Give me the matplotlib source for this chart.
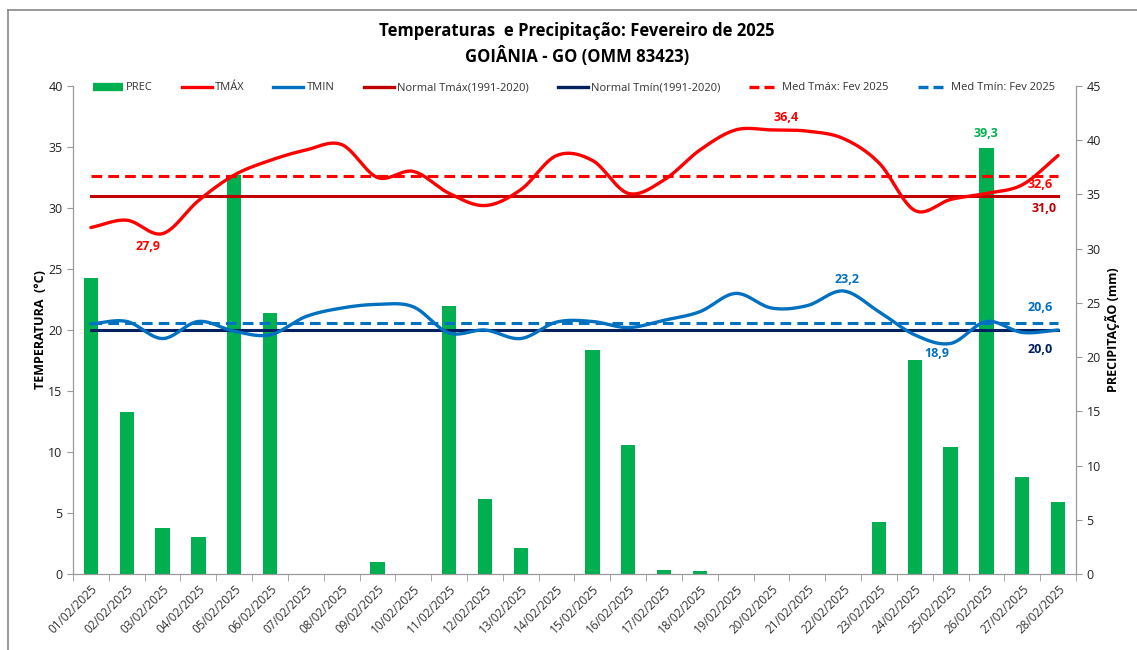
import numpy as np, matplotlib
matplotlib.use("Agg")
import matplotlib.pyplot as plt
from matplotlib.lines import Line2D

plt.rcParams["font.family"] = ["Open Sans", "DejaVu Sans"]

days = [f"{d:02d}/02/2025" for d in range(1, 29)]
tmax = [28.4, 29.0, 27.9, 30.6, 32.7, 33.9, 34.75, 35.2, 32.5, 33.0, 31.2, 30.2, 31.5, 34.3,
        33.9, 31.2, 32.3, 34.75, 36.4, 36.4, 36.3, 35.7, 33.7, 29.8, 30.7, 31.2, 31.9, 34.3]
tmin = [20.5, 20.7, 19.3, 20.7, 19.9, 19.6, 21.1, 21.8, 22.1, 21.9, 19.75, 20.0, 19.3, 20.65,
        20.7, 20.2, 20.8, 21.5, 23.0, 21.8, 22.0, 23.2, 21.5, 19.6, 18.9, 20.7, 19.8, 20.0]
prec = [27.3, 14.9, 4.2, 3.4, 36.8, 24.1, 0, 0, 1.1, 0, 24.7, 6.9, 2.4, 0,
        20.7, 11.9, 0.4, 0.3, 0, 0, 0, 0, 4.8, 19.7, 11.7, 39.3, 8.9, 6.6]
normal_tmax = 31.0
normal_tmin = 20.0
med_tmax = 32.6
med_tmin = 20.6

GREEN = "#00B050"; RED = "#FF0000"; DRED = "#C00000"; BLUE = "#0070C0"; NAVY = "#002060"


def smooth(y, n=24):
    # Catmull-Rom curve through the points (Excel "smoothed line" look)
    y = np.asarray(y, float)
    x = np.arange(1, len(y) + 1, dtype=float)
    P = np.column_stack([x, y])
    P = np.vstack([P[0] - (P[1] - P[0]), P, P[-1] + (P[-1] - P[-2])])
    out = []
    t = np.linspace(0, 1, n, endpoint=False)[:, None]
    for i in range(1, len(P) - 2):
        p0, p1, p2, p3 = P[i - 1], P[i], P[i + 1], P[i + 2]
        seg = 0.5 * ((2 * p1) + (-p0 + p2) * t + (2 * p0 - 5 * p1 + 4 * p2 - p3) * t ** 2
                     + (-p0 + 3 * p1 - 3 * p2 + p3) * t ** 3)
        out.append(seg)
    out.append(P[-2][None, :])
    out = np.vstack(out)
    return out[:, 0], out[:, 1]


fig = plt.figure(figsize=(11.37, 6.5), dpi=100)
ax = fig.add_axes([73 / 1137, 1 - 574 / 650, (1076 - 73) / 1137, (574 - 86) / 650])
ax2 = ax.twinx()
x = np.arange(1, 29)

ax2.bar(x, prec, width=0.4, color=GREEN, zorder=2)
ax2.set_ylim(0, 45)
ax2.set_yticks(range(0, 46, 5))

xs, ys = smooth(tmax)
ax.plot(xs, ys, color=RED, lw=2.4, zorder=5, solid_capstyle="round")
xs, ys = smooth(tmin)
ax.plot(xs, ys, color=BLUE, lw=2.4, zorder=5, solid_capstyle="round")
ax.plot([1, 28], [normal_tmax] * 2, color=DRED, lw=2.2, zorder=4)
ax.plot([1, 28], [normal_tmin] * 2, color=NAVY, lw=2.2, zorder=4)
ax.plot([1, 28], [med_tmax] * 2, color=RED, lw=2.2, ls=(0, (3.5, 2)), zorder=4)
ax.plot([1, 28], [med_tmin] * 2, color=BLUE, lw=2.2, ls=(0, (3.5, 2)), zorder=4)

ax.set_zorder(ax2.get_zorder() + 1)
ax.patch.set_visible(False)
ax.set_xlim(0.5, 28.5)
ax.set_ylim(0, 40)
ax.set_yticks(range(0, 41, 5))
ax.set_xticks(x)
ax.set_xticklabels(days, rotation=45, ha="right", rotation_mode="anchor", fontsize=8.5, color="#333333")
ax.set_xticks(np.arange(0.5, 29, 1), minor=True)
ax.tick_params(axis="x", which="major", length=0, pad=6)
ax.tick_params(axis="x", which="minor", length=5, color="#999999", direction="out")

for a in (ax, ax2):
    for s in a.spines.values():
        s.set_color("#999999")
    a.spines["top"].set_visible(False)
    a.tick_params(axis="y", length=4, color="#999999", labelsize=9, labelcolor="#222222")

ax.set_ylabel("TEMPERATURA  (°C)", fontsize=9, fontweight="bold", labelpad=1)
ax2.set_ylabel("PRECIPITAÇÃO (mm)", fontsize=9, fontweight="bold", labelpad=3)

lab = dict(fontsize=9, fontweight="bold", ha="center", va="center", textcoords="offset points")
ax.annotate("27,9", (2.6, 27.9), xytext=(0, -9.4), color=RED, **lab)
ax.annotate("36,4", (20.4, 36.4), xytext=(0, 8.6), color=RED, **lab)
ax2.annotate("39,3", (26, 39.3), xytext=(0, 10), color=GREEN, **lab)
ax.annotate("32,6", (27.5, med_tmax), xytext=(0, -6), color=RED, **lab)
ax.annotate("31,0", (27.6, normal_tmax), xytext=(0, -9.4), color=DRED, **lab)
ax.annotate("23,2", (22.1, 23.2), xytext=(0, 8.6), color=BLUE, **lab)
ax.annotate("18,9", (24.6, 18.9), xytext=(0, -7), color=BLUE, **lab)
ax.annotate("20,6", (27.5, med_tmin), xytext=(0, 10.8), color=BLUE, **lab)
ax.annotate("20,0", (27.5, normal_tmin), xytext=(0, -13.7), color=NAVY, **lab)

handles = [Line2D([], [], color=GREEN, lw=6, solid_capstyle="butt"),
           Line2D([], [], color=RED, lw=2.4),
           Line2D([], [], color=BLUE, lw=2.4),
           Line2D([], [], color=DRED, lw=2.4),
           Line2D([], [], color=NAVY, lw=2.4),
           Line2D([], [], color=RED, lw=2.4, ls=(0, (3, 1.5))),
           Line2D([], [], color=BLUE, lw=2.4, ls=(0, (3, 1.5)))]
labels = ["PREC", "TMÁX", "TMIN", "Normal Tmáx(1991-2020)", "Normal Tmín(1991-2020)",
          "Med Tmáx: Fev 2025", "Med Tmín: Fev 2025"]
fig.legend(handles, labels, loc="center", bbox_to_anchor=(574 / 1137, 1 - 88 / 650), ncol=7,
           frameon=False, fontsize=8, handlelength=2.7, handletextpad=0.3, columnspacing=2.6,
           labelcolor="#333333")

fig.text(577 / 1137, 1 - 31 / 650, "Temperaturas  e Precipitação: Fevereiro de 2025",
         ha="center", va="center", fontsize=12, fontweight="bold")
fig.text(577 / 1137, 1 - 56 / 650, "GOIÂNIA - GO (OMM 83423)",
         ha="center", va="center", fontsize=12, fontweight="bold")

fig.add_artist(Line2D([8 / 1137, 8 / 1137], [0, 1 - 10 / 650], color="#888888", lw=1.2))
fig.add_artist(Line2D([8 / 1137, 1], [1 - 10 / 650, 1 - 10 / 650], color="#888888", lw=1.2))

fig.savefig("out.png", dpi=100, facecolor="white")
